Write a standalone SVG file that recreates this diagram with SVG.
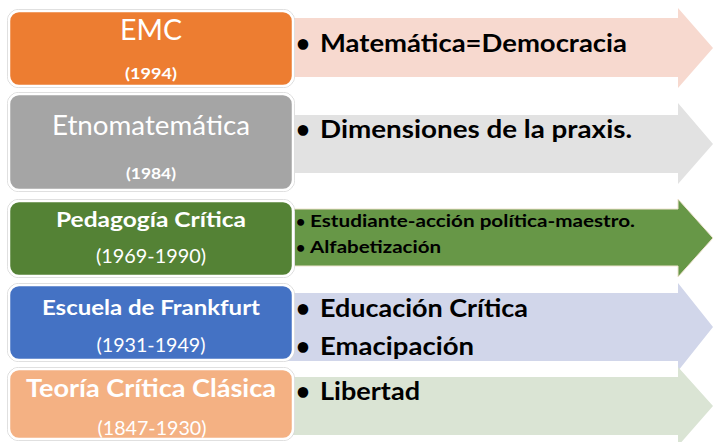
<svg xmlns="http://www.w3.org/2000/svg" width="713" height="442" viewBox="0 0 713 442">
<style>
.box{stroke:#ffffff;stroke-width:2.5}
.halo{fill:none;stroke:#d6d6d6;stroke-width:1}
.t{font-family:Lato,"Open Sans","Liberation Sans",sans-serif;fill:#ffffff;text-anchor:middle}
.r{font-family:Lato,"Open Sans","Liberation Sans",sans-serif;fill:#000000;font-weight:bold}
.b{font-weight:bold}
</style>
<rect width="713" height="442" fill="#ffffff"/>
<g id="connectors">
<polygon id="arrow1" points="285,18 678,18 678,8 713,48 678,88 678,77 285,77" fill="#F7D9CF"/>
<polygon id="arrow2" points="285,115 678,115 678,103 713,144 678,184 678,173 285,173" fill="#E2E2E2"/>
<polygon id="arrow3" points="285,209 678,209 678,199 713,238 678,277 678,266 285,266" fill="#679747" stroke="#EFE3CF" stroke-width="1"/>
<polygon id="arrow4" points="285,293 678,293 678,283 713,327 678,371 678,361 285,361" fill="#D1D6EA"/>
<polygon id="arrow5" points="285,377 678,377 678,367 713,406 678,446 678,435 285,435" fill="#DAE4D4"/>
</g>
<g id="node-emc">
<rect class="halo" x="7.5" y="9.5" width="287" height="78" rx="11"/>
<rect class="box" x="9" y="11" width="284" height="75" rx="10" fill="#ED7D31"/>
<text class="t" x="151" y="40" font-size="29" textLength="62" lengthAdjust="spacingAndGlyphs">EMC</text>
<text class="t b" x="151" y="79" font-size="16" textLength="52" lengthAdjust="spacingAndGlyphs">(1994)</text>
</g>
<g id="node-etno">
<rect class="halo" x="7.5" y="92.5" width="287" height="99" rx="11"/>
<rect class="box" x="9" y="94" width="284" height="96" rx="10" fill="#A5A5A5"/>
<text class="t" x="151" y="135" font-size="26" textLength="198" lengthAdjust="spacingAndGlyphs">Etnomatemática</text>
<text class="t b" x="151" y="179" font-size="16" textLength="50" lengthAdjust="spacingAndGlyphs">(1984)</text>
</g>
<g id="node-pedagogia">
<rect class="halo" x="7.5" y="199.5" width="287" height="78" rx="11"/>
<rect class="box" x="9" y="201" width="284" height="75" rx="10" fill="#548235"/>
<text class="t b" x="151" y="227" font-size="21" textLength="190" lengthAdjust="spacingAndGlyphs">Pedagogía Crítica</text>
<text class="t" x="151" y="263" font-size="19" textLength="110" lengthAdjust="spacingAndGlyphs">(1969-1990)</text>
</g>
<g id="node-frankfurt">
<rect class="halo" x="7.5" y="283.5" width="287" height="78" rx="11"/>
<rect class="box" x="9" y="285" width="284" height="75" rx="10" fill="#4472C4"/>
<text class="t b" x="151" y="315" font-size="20" textLength="218" lengthAdjust="spacingAndGlyphs">Escuela de Frankfurt</text>
<text class="t" x="151" y="352" font-size="19" textLength="109" lengthAdjust="spacingAndGlyphs">(1931-1949)</text>
</g>
<g id="node-teoria">
<rect class="halo" x="7.5" y="367.5" width="287" height="73" rx="11"/>
<rect class="box" x="9" y="369" width="284" height="70" rx="10" fill="#F4B183"/>
<text class="t b" x="151" y="397" font-size="25" textLength="250" lengthAdjust="spacingAndGlyphs">Teoría Crítica Clásica</text>
<text class="t" x="152" y="435" font-size="19" textLength="109" lengthAdjust="spacingAndGlyphs">(1847-1930)</text>
</g>
<g id="labels">
<text class="r" x="296" y="52" font-size="24">•</text>
<text class="r" x="320" y="52" font-size="25" textLength="307" lengthAdjust="spacingAndGlyphs">Matemática=Democracia</text>
<text class="r" x="296" y="138" font-size="24">•</text>
<text class="r" x="320" y="138" font-size="25" textLength="312" lengthAdjust="spacingAndGlyphs">Dimensiones de la praxis.</text>
<text class="r" x="296" y="227" font-size="16">•</text>
<text class="r" x="310" y="227" font-size="17" textLength="325" lengthAdjust="spacingAndGlyphs">Estudiante-acción política-maestro.</text>
<text class="r" x="296" y="253" font-size="16">•</text>
<text class="r" x="310" y="253" font-size="17" textLength="131" lengthAdjust="spacingAndGlyphs">Alfabetización</text>
<text class="r" x="296" y="317" font-size="24">•</text>
<text class="r" x="320" y="317" font-size="25" textLength="208" lengthAdjust="spacingAndGlyphs">Educación Crítica</text>
<text class="r" x="296" y="355" font-size="24">•</text>
<text class="r" x="320" y="355" font-size="25" textLength="154" lengthAdjust="spacingAndGlyphs">Emacipación</text>
<text class="r" x="296" y="400" font-size="24">•</text>
<text class="r" x="320" y="400" font-size="25" textLength="100" lengthAdjust="spacingAndGlyphs">Libertad</text>
</g>
</svg>
